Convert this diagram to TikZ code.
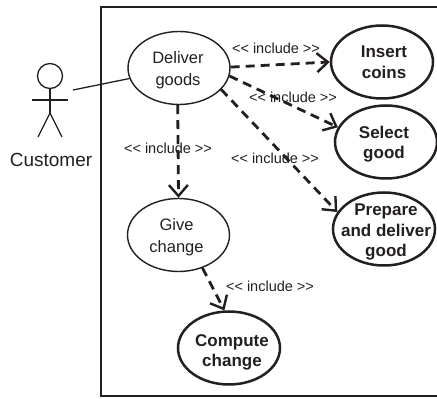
\documentclass[tikz,border=0pt]{standalone}
\usepackage{fontspec}
\setmainfont{Liberation Sans}
\usepackage{tikz}
\usetikzlibrary{arrows.meta,shapes.geometric}
\definecolor{ink}{HTML}{231F20}
\newcommand{\dropline}[1]{\rule{0pt}{#1}}

\tikzset{
  usecase/.style={ellipse,draw=ink,text=ink,line width=1.4pt,minimum width=102pt,minimum height=73pt,
    inner sep=-12pt,align=center,font=\fontsize{16.5}{21.5}\selectfont},
  subcase/.style={usecase,line width=2.5pt,font=\fontsize{17}{20.5}\selectfont\bfseries},
  includes/.style={text=ink,font=\fontsize{14.5}{17}\selectfont,inner sep=0pt},
  stickman/.style={draw=ink,line width=1.3pt},
  frame/.style={draw=ink,line width=1.3pt}
}

\begin{document}
\begin{tikzpicture}[x=1pt,y=1pt,>={Straight Barb[length=11pt,width=19pt,line width=2.4pt]}]
        \useasboundingbox (0,0) rectangle (437,399);
        \draw[frame] (437,392) -- (101,392) -- (101,3) -- (437,3);

        \node[usecase] (deliver) at (179,331) {\dropline{16pt}Deliver\hspace*{2pt}\\goods\hspace*{2pt}};
        \node[subcase] (insert) at (382,337) {\hspace*{4pt}Insert\\\hspace*{4pt}coins};
        \node[subcase] (select) at (386,257) {\dropline{16.5pt}Select\hspace*{4pt}\\good\hspace*{4pt}};
        \node[subcase] (prepare) at (384,170) {\dropline{18.5pt}\hspace*{4pt}Prepare\\\hspace*{4pt}and deliver\\\hspace*{4pt}good};
        \node[usecase] (give) at (178.5,164) {\dropline{16pt}Give\hspace*{4pt}\\change\hspace*{4pt}};
        \node[subcase] (compute) at (229,51) {\dropline{20.5pt}\hspace*{6pt}Compute\\\hspace*{6pt}change};

        \node[circle,stickman,minimum size=25pt,inner sep=0pt] (head) at (50,323) {};
        \coordinate (hip) at (50,286);
        \draw[stickman] (head) -- (hip);
        \draw[stickman] (32,299) -- (68,299);
        \draw[stickman] (38,262) -- (hip) -- (62,262);
        \node[text=ink,font=\fontsize{19}{21}\selectfont,inner sep=0pt] (customer) at (51,239) {Customer};
        \coordinate (hand) at (73,309);
        \draw[ink,line width=1.3pt] (hand) -- (deliver.192);

        \node[includes] (inc1) at (276,351) {<{}< include >{}>};
        \node[includes] (inc2) at (293,302) {<{}< include >{}>};
        \node[includes] (inc3) at (275,241) {<{}< include >{}>};
        \node[includes] (inc4) at (270,113) {<{}< include >{}>};
        \node[includes] (inc5) at (168,251) {<{}< include >{}>};

        \path[->,ink,line width=2.8pt,dash pattern=on 9pt off 6pt]
          (deliver.1) edge (insert.west)
          (deliver.-9) edge (select.163)
          (deliver.-27) edge (prepare.160)
          (deliver.-92) edge (give.90)
          (give.-54) edge (compute.97);
      \end{tikzpicture}
\end{document}
